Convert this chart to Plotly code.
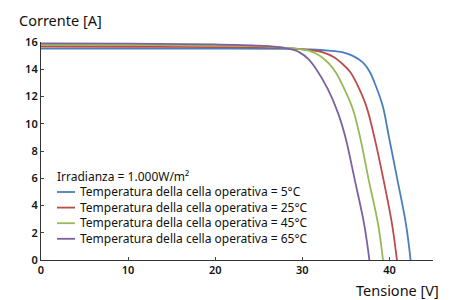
import plotly.graph_objects as go

# Data (Tensione [V] vs Corrente [A])
v_5 = [0, 10, 20, 28, 31, 33, 34.65, 35.8, 36.94, 37.7, 38.28, 39.23, 39.92, 40.9, 41.9, 42.43]
i_5 = [15.52, 15.52, 15.51, 15.49, 15.45, 15.37, 15.24, 14.98, 14.5, 13.85, 13.03, 11.31, 9.1, 5.94, 2.62, 0]

v_25 = [0, 10, 20, 27, 29.5, 31, 32.36, 33.6, 34.65, 35.5, 36.18, 37.33, 38.28, 39.3, 40.3, 40.86]
i_25 = [15.66, 15.65, 15.63, 15.58, 15.5, 15.4, 15.24, 14.9, 14.37, 13.8, 13.03, 11.31, 8.98, 5.94, 2.62, 0]

v_45 = [0, 10, 20, 26, 28.5, 29.8, 30.83, 32.0, 33.12, 33.9, 34.65, 35.8, 36.64, 37.6, 38.7, 39.26]
i_45 = [15.78, 15.77, 15.74, 15.67, 15.55, 15.47, 15.35, 15.0, 14.37, 13.7, 12.78, 11.07, 8.98, 5.94, 2.62, 0]

v_65 = [0, 10, 20, 25, 27, 28, 29.0, 29.68, 30.7, 31.6, 32.93, 34.08, 34.96, 36.0, 37.1, 37.7]
i_65 = [15.9, 15.88, 15.82, 15.74, 15.64, 15.55, 15.42, 15.24, 14.75, 14.0, 12.54, 10.82, 8.98, 5.94, 2.62, 0]

names = [
    "Temperatura della cella operativa = 5°C",
    "Temperatura della cella operativa = 25°C",
    "Temperatura della cella operativa = 45°C",
    "Temperatura della cella operativa = 65°C",
]
legend_title = "Irradianza = 1.000W/m²"
colors = ["#4a7ebb", "#be4b48", "#98b954", "#7d60a0"]
series = [(v_5, i_5), (v_25, i_25), (v_45, i_45), (v_65, i_65)]

x_ticks = [0, 10, 20, 30, 40]
y_ticks = [0, 2, 4, 6, 8, 10, 12, 14, 16]

# The page body adds an 8px offset; figure sized to fill the rest of the window.
W, H = 446, 292
ML, MR, MT, MB = 33, 21, 34, 40
PW, PH = W - ML - MR, H - MT - MB


def px(xpage):
    return (xpage - 8 - ML) / PW


def py(ypage):
    return (H - MB - (ypage - 8)) / PH


fig = go.Figure()
for (v, i), n, c in zip(series, names, colors):
    fig.add_trace(go.Scatter(x=v, y=i, mode="lines", name=n, showlegend=False,
                             line=dict(color=c, width=1.8, shape="spline", smoothing=1.0)))

font_family = "Noto Sans, Open Sans, sans-serif"
LEG_FS = 12
step = 1.3 * LEG_FS
first_y = 192
leg_y = [first_y + k * step for k in range(len(names))]

annotations = [
    dict(text="Corrente [A]", xref="paper", yref="paper", x=px(17), y=py(20),
         xanchor="left", yanchor="middle", showarrow=False, font=dict(size=14.5)),
    dict(text="Tensione [V]", xref="paper", yref="paper", x=px(441), y=py(290),
         xanchor="right", yanchor="middle", showarrow=False, font=dict(size=14.5)),
    dict(text=legend_title, xref="paper", yref="paper", x=px(55), y=py(176),
         xanchor="left", yanchor="middle", showarrow=False, font=dict(size=LEG_FS)),
    dict(text="<br>".join(names), xref="paper", yref="paper", x=px(78),
         y=py((leg_y[0] + leg_y[-1]) / 2), xanchor="left", yanchor="middle",
         align="left", showarrow=False, font=dict(size=LEG_FS)),
]
shapes = []
for c, yy in zip(colors, leg_y):
    shapes.append(dict(type="line", xref="paper", yref="paper",
                       x0=px(57), x1=px(75), y0=py(yy), y1=py(yy),
                       line=dict(color=c, width=1.8)))

tickfont = dict(size=11, color="#111", weight=600)
fig.update_layout(
    width=W, height=H,
    margin=dict(l=ML, r=MR, t=MT, b=MB),
    paper_bgcolor="white", plot_bgcolor="white",
    font=dict(family=font_family, color="#111", size=12),
    showlegend=False,
    xaxis=dict(range=[0, 45], tickvals=x_ticks, ticks="inside", ticklen=3,
               showline=True, linecolor="#333", linewidth=1.2, showgrid=False,
               zeroline=False, tickfont=tickfont, fixedrange=True),
    yaxis=dict(range=[0, 16], tickvals=y_ticks, ticks="inside", ticklen=3,
               showline=True, linecolor="#333", linewidth=1.2, showgrid=False,
               zeroline=False, tickfont=tickfont, fixedrange=True),
    annotations=annotations,
    shapes=shapes,
)
fig.write_html("out.html")
